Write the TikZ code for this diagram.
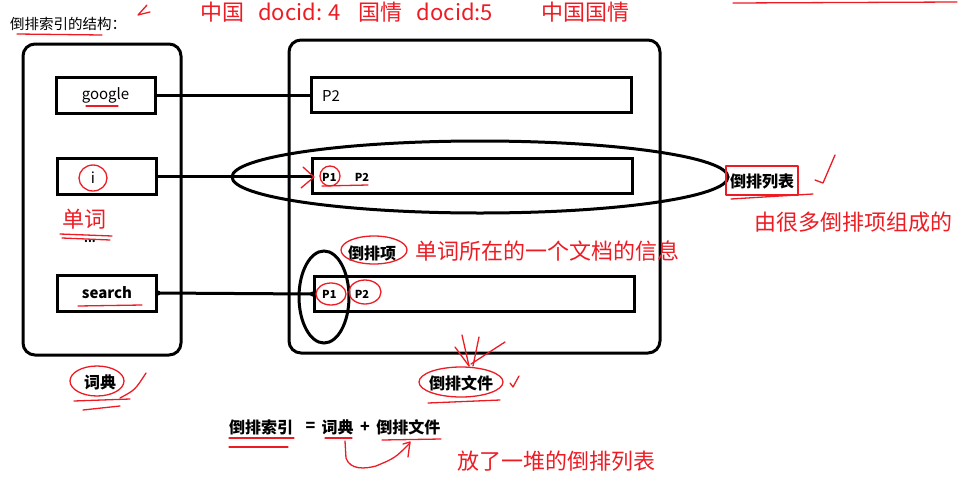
\documentclass[tikz,border=0pt]{standalone}
\usepackage{fontspec}
\setmainfont{Noto Sans CJK SC}
\usetikzlibrary{shapes.geometric, positioning}
\definecolor{penred}{rgb}{0.93, 0.11, 0.14}
\tikzstyle{panel}=[draw=black, line width=3pt, rounded corners=12pt]
\tikzstyle{wordbox}=[rectangle, draw=black, line width=3pt, minimum width=99pt, minimum height=36pt, inner sep=0pt, font=\fontsize{15}{17}\selectfont]
\tikzstyle{postbox}=[rectangle, draw=black, line width=3pt, minimum width=320pt, minimum height=35pt, inner sep=0pt]
\tikzstyle{ring}=[ellipse, draw=black, line width=3pt, inner sep=0pt]
\tikzstyle{link}=[line width=3pt]
\tikzstyle{note}=[text=penred, font=\fontsize{22}{24}\selectfont, inner sep=0pt]
\tikzstyle{term}=[font=\bfseries\fontsize{16}{18}\selectfont, inner sep=0pt]
\tikzstyle{postext}=[font=\bfseries\fontsize{11}{13}\selectfont, inner sep=0pt]
\tikzstyle{ink}=[draw=penred, line width=1.3pt, line cap=round, line join=round]

\begin{document}
\begin{tikzpicture}[x=1pt, y=-1pt]
		\useasboundingbox (0,0) rectangle (967,501);
		% title and notes on top
		\node (title) [anchor=west, inner sep=0pt, font=\fontsize{14.5}{16}\selectfont] at (10,24) {倒排索引的结构：};
		\node (docs) [note, anchor=west] at (200,12) {中国\hspace{14pt}docid: 4\hspace{18pt}国情\hspace{14pt}docid:5};
		\node (phrase) [note, anchor=west] at (541,12) {中国国情};
		
		% dictionary
		\draw [panel] (23,44) rectangle (181,355);
		\node (google) [wordbox] at (105.5,95) {google};
		\node (wordi) [wordbox] at (106.5,176) {};
		\node (itext) [inner sep=0pt, font=\fontsize{15}{17}\selectfont] at (93,178) {i};
		\node (search) [wordbox, font=\bfseries\fontsize{15}{17}\selectfont] at (107,293) {search};
		\node (word) [note] at (84,219) {单词};
		\node (dots) [postext] at (90,241) {...};
		\node (dict) [term] at (100,382) {词典};
		
		% inverted file
		\draw [panel] (289,40) rectangle (660,353);
		\node (row1) [postbox] at (471,95) {};
		\node (row2) [postbox] at (472.5,176) {};
		\node (row3) [postbox] at (474,294) {};
		\node (r1p2) [anchor=west, inner sep=0pt, font=\fontsize{15}{17}\selectfont] at (322,96) {P2};
		\node (r2p1) [postext, anchor=west] at (322,177) {P1};
		\node (r2p2) [postext, right=18pt of r2p1] {P2};
		\node (r3p1) [postext, anchor=west] at (322,294) {P1};
		\node (r3p2) [postext, right=18pt of r3p1] {P2};
		\node (plist) [ring, minimum width=496pt, minimum height=72pt] at (480,177) {};
		\node (item) [ring, minimum width=50pt, minimum height=92pt] at (324,297) {};
		\node (plistlabel) [term] at (762,181) {倒排列表};
		\node (itemlabel) [term] at (372,253) {倒排项};
		\node (itemnote) [note, anchor=west] at (415,251) {单词所在的一个文档的信息};
		\node (plistnote) [note, anchor=west] at (754,222) {由很多倒排项组成的};
		\node (file) [term] at (461,383) {倒排文件};
		
		% formula
		\node (index) [term, anchor=west] at (229,427) {倒排索引};
		\node (eq) [term, right=12pt of index] {=};
		\node (fdict) [term, right=6pt of eq] {词典};
		\node (plus) [term, right=6pt of fdict] {+};
		\node (ffile) [term, right=6pt of plus] {倒排文件};
		\node (filenote) [note, anchor=west] at (457,461) {放了一堆的倒排列表};
		
		% links
		\draw [link] (google.east) -- (row1.west);
		\draw [link] (wordi.east) -- (row2.west);
		\draw [link] (search.east) -- (row3.west);
		\fill (search.east) circle (2.5pt);
		\fill (row3.west) circle (2.5pt);
		
		% red pen marks
		\draw [ink] (147,5) -- (138,15) -- (150,12);
		\draw [ink] (733,3) -- (957,2);
		\draw [ink] (17,34) -- (102,35);
		\draw [ink] (86,106) -- (118,106);
		\draw [ink] (93,178) ellipse (14pt and 13pt);
		\draw [ink] (78,306) -- (142,305);
		\draw [ink] (60,234) -- (112,236);
		\draw [ink] (62,238) -- (110,240);
		\draw [ink] (303,167) -- (314,177) -- (301,188);
		\draw [ink] (330,176) ellipse (10pt and 10pt);
		\draw [ink] (322,186) -- (368,185);
		\draw [ink] (331,294) ellipse (15pt and 11pt);
		\draw [ink] (365,292) ellipse (16pt and 12pt);
		\draw [ink] (374,250) ellipse (33pt and 14pt);
		\draw [ink] (726,166) rectangle (798,195);
		\draw [ink] (731,199) -- (813,194);
		\draw [ink] (815,180) -- (823,183) -- (835,155);
		\draw [ink] (97,381) ellipse (27pt and 15pt);
		\draw [ink] (120,398) .. controls (135,390) .. (146,373);
		\draw [ink] (74,401) -- (130,399);
		\draw [ink] (83,410) -- (120,406);
		\draw [ink] (462,335) -- (469,366);
		\draw [ink] (479,337) -- (473,366);
		\draw [ink] (455,347) -- (469,366);
		\draw [ink] (505,342) -- (471,364);
		\draw [ink] (461,382) ellipse (42pt and 15pt);
		\draw [ink] (428,403) -- (500,400);
		\draw [ink] (510,383) -- (513,387) -- (519,376);
		\draw [ink] (229,438) -- (294,438);
		\draw [ink] (229,447) -- (288,447);
		\draw [ink] (325,438) -- (352,438);
		\draw [ink] (382,440) -- (441,439);
		\draw [ink] (345,441) -- (346,458) .. controls (350,470) and (365,469) .. (376,466) .. controls (395,458) .. (410,443);
		\draw [ink] (403,444) -- (410,442) -- (408,457);
	\end{tikzpicture}
\end{document}
